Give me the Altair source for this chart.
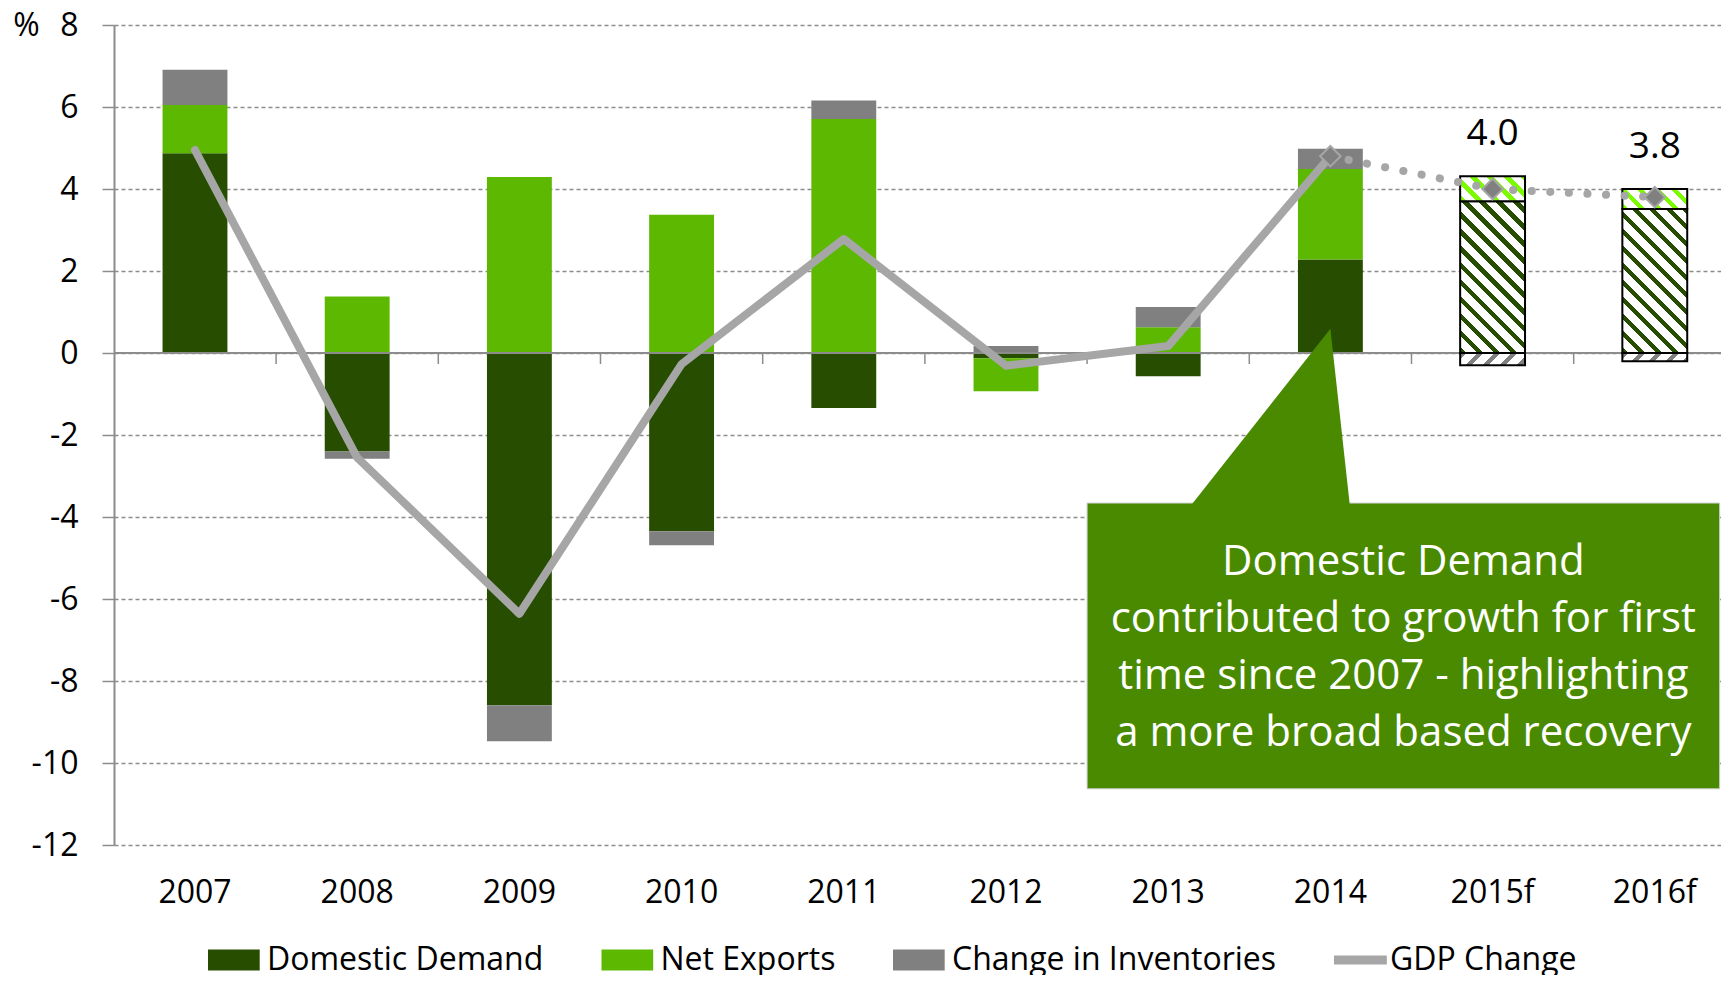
import math
import altair as alt
import pandas as pd

# ---------------- data ----------------
years = ["2007", "2008", "2009", "2010", "2011", "2012", "2013", "2014"]
domestic_demand = [4.87, -2.40, -8.59, -4.35, -1.34, -0.13, -0.57, 2.28]
net_exports = [1.18, 1.38, 4.29, 3.37, 5.71, -0.80, 0.63, 2.21]
inventories = [0.86, -0.18, -0.88, -0.34, 0.45, 0.17, 0.49, 0.49]
gdp_change = [4.95, -2.55, -6.36, -0.27, 2.78, -0.31, 0.17, 4.80]

forecast_years = ["2015f", "2016f"]
fc_domestic_demand = [3.70, 3.51]
fc_net_exports = [0.61, 0.49]
fc_inventories = [-0.30, -0.20]
fc_gdp_change = [4.0, 3.8]

series_names = ["Domestic Demand", "Net Exports", "Change in Inventories"]
gdp_name = "GDP Change"
y_tick_values = [-12, -10, -8, -6, -4, -2, 0, 2, 4, 6, 8]

callout_lines = [
    "Domestic Demand",
    "contributed to growth for first",
    "time since 2007 - highlighting",
    "a more broad based recovery",
]

# ---------------- styles / layout ----------------
series_colors = ["#264d00", "#5cb800", "#808080"]
hatch_colors = ["#264d00", "#7cfc00", "#808080"]
hatch_dirs = ["back", "back", "fwd"]
GDP_COLOR = "#a6a6a6"
AXIS_GRAY = "#8c8c8c"
CALLOUT_GREEN = "#4a8a00"
FONT = "Open Sans"

cats = years + forecast_years
N = len(cats)
W, H = 1607, 820
STEP = 162.2
PI = 0.6
PO = (W / STEP - (N - PI)) / 2
BAND_START = 48.55
ALIGN = BAND_START / (W - STEP * (N - PI))
BW = STEP * (1 - PI)
C0 = BAND_START + BW / 2
Y_MIN, Y_MAX = -12, 8
PX = H / (Y_MAX - Y_MIN)

xscale = alt.Scale(domain=cats, paddingInner=PI, paddingOuter=PO, align=ALIGN, round=False)
yscale = alt.Scale(domain=[Y_MIN, Y_MAX], nice=False, zero=False)
lin_x = alt.Scale(domain=[-C0 / STEP, (W - C0) / STEP], nice=False, zero=False)

RECT_SYMBOL = "M-1,-0.95H3.7V0.95H-1Z"
LINE_SYMBOL = "M-1,0H3.8"


def hatch(w, h, color, direction, period=12.0, frac=0.38):
    w, h = abs(w), abs(h)
    k = (w + h) / (w * w + h * h)
    if direction == "back":
        x1, y1, x2, y2 = 0, 1, k * w, 1 - k * h
    else:
        x1, y1, x2, y2 = 0, 0, k * w, k * h
    n = (w + h) / math.sqrt(2) / period
    stops = []
    i = 0
    while i < n:
        a = min(i / n, 1)
        b = min((i + frac) / n, 1)
        c = min((i + 1) / n, 1)
        stops += [
            {"offset": a, "color": color},
            {"offset": b, "color": color},
            {"offset": b, "color": "#ffffff"},
            {"offset": c, "color": "#ffffff"},
        ]
        i += 1
    return {"gradient": "linear", "x1": x1, "y1": y1, "x2": x2, "y2": y2, "stops": stops}


# ---------------- tables ----------------
rows = []
for i, yr in enumerate(years):
    for j, (name, vals) in enumerate(zip(series_names, [domestic_demand, net_exports, inventories])):
        rows.append({"cat": yr, "series": name, "value": vals[i], "ord": j})
hist = pd.DataFrame(rows)

gdp_df = pd.DataFrame({"cat": years, "gdp": gdp_change, "gdp_series": gdp_name})
fc_line = pd.DataFrame({"cat": [years[-1]] + forecast_years, "gdp": [gdp_change[-1]] + fc_gdp_change})
fc_label = pd.DataFrame({
    "cat": forecast_years,
    "top": [d + n for d, n in zip(fc_domestic_demand, fc_net_exports)],
    "label": [f"{v:.1f}" for v in fc_gdp_change],
})
tick_df = pd.DataFrame({"cat": cats[:-1]})

yaxis = alt.Axis(
    values=y_tick_values, labelExpr="'' + datum.value",
    title="%", titleAngle=0, titleX=-88, titleY=0, titleAlign="center", titleBaseline="middle",
    titleFont=FONT, titleFontSize=32, titleFontWeight="normal", titleColor="black",
    labelFont=FONT, labelFontSize=32, labelColor="black", labelPadding=24,
    tickSize=12, tickColor=AXIS_GRAY, tickWidth=1.5,
    domainColor=AXIS_GRAY, domainWidth=2,
    grid=True, gridColor=AXIS_GRAY, gridDash=[4, 3], gridWidth=1.3,
)
xaxis = alt.Axis(
    title=None, labelAngle=0, labelFont=FONT, labelFontSize=32, labelColor="black",
    labelPadding=47, labelBaseline="middle", domain=False, ticks=False, tickSize=0, grid=False,
)

bars = alt.Chart(hist).mark_bar().encode(
    x=alt.X("cat:N", scale=xscale, axis=xaxis, sort=cats),
    y=alt.Y("value:Q", scale=yscale, axis=yaxis, stack="zero"),
    fill=alt.Fill(
        "series:N",
        scale=alt.Scale(domain=series_names, range=series_colors),
        legend=alt.Legend(
            orient="none", legendX=89, legendY=919, direction="horizontal", title=None,
            labelFont=FONT, labelFontSize=32, labelColor="black", labelLimit=1000,
            symbolType=RECT_SYMBOL, symbolSize=484, symbolStrokeWidth=0, symbolOpacity=1,
            labelOffset=32, columnPadding=52.5,
        ),
    ),
    order=alt.Order("ord:Q", sort="ascending"),
)

zero_rule = alt.Chart(hist).mark_rule(color=AXIS_GRAY, strokeWidth=2).encode(y=alt.datum(0))

ticks = alt.Chart(tick_df).mark_rule(color=AXIS_GRAY, strokeWidth=1.5, xOffset=STEP / 2, y2Offset=11).encode(
    x=alt.X("cat:N", scale=xscale), y=alt.datum(0), y2=alt.datum(0)
)

# forecast hatched segments
fc_layers = []
for i, yr in enumerate(forecast_years):
    segs = [
        (0.0, fc_domestic_demand[i]),
        (fc_domestic_demand[i], fc_domestic_demand[i] + fc_net_exports[i]),
        (0.0, fc_inventories[i]),
    ]
    for j, (a, b) in enumerate(segs):
        seg_df = pd.DataFrame({"cat": [yr], "y0": [a], "y1": [b], "series": [series_names[j]]})
        grad = hatch(BW, (b - a) * PX, hatch_colors[j], hatch_dirs[j])
        fc_layers.append(
            alt.Chart(seg_df).mark_bar(fill=grad, stroke="black", strokeWidth=2).encode(
                x=alt.X("cat:N", scale=xscale), y=alt.Y("y0:Q", scale=yscale), y2="y1:Q"
            )
        )

gdp_line = alt.Chart(gdp_df).mark_line(strokeWidth=8, strokeCap="round", strokeJoin="round").encode(
    x=alt.X("cat:N", scale=xscale, sort=cats),
    y=alt.Y("gdp:Q", scale=yscale),
    stroke=alt.Stroke(
        "gdp_series:N",
        scale=alt.Scale(domain=[gdp_name], range=[GDP_COLOR]),
        legend=alt.Legend(
            orient="none", legendX=1215, legendY=919, direction="horizontal", title=None,
            labelFont=FONT, labelFontSize=32, labelColor="black", labelLimit=1000,
            symbolType=LINE_SYMBOL, symbolSize=484, symbolStrokeWidth=9,
            labelOffset=29,
        ),
    ),
)

fc_dots = alt.Chart(fc_line).mark_line(
    color=GDP_COLOR, strokeWidth=8, strokeCap="round", strokeDash=[0.1, 18.5]
).encode(x=alt.X("cat:N", scale=xscale, sort=cats), y=alt.Y("gdp:Q", scale=yscale))

fc_diamonds = alt.Chart(fc_line).mark_point(
    shape="diamond", filled=True, size=420, fill="#808080", stroke=GDP_COLOR, strokeWidth=2, opacity=1
).encode(x=alt.X("cat:N", scale=xscale), y=alt.Y("gdp:Q", scale=yscale))

fc_text = alt.Chart(fc_label).mark_text(
    font=FONT, fontSize=37, color="black", dy=-42, baseline="middle", align="center"
).encode(x=alt.X("cat:N", scale=xscale), y=alt.Y("top:Q", scale=yscale), text="label:N")

band_layer = alt.layer(bars, zero_rule, ticks, *fc_layers, gdp_line, fc_dots, fc_diamonds, fc_text)

# ---------------- callout (x in category-index units) ----------------
box_df = pd.DataFrame({"x": [5.50], "x2": [9.40], "y": [-3.66], "y2": [-10.63]})
ptr_df = pd.DataFrame({"x": [6.14, 7.0, 7.12], "y": [-3.72, 0.59, -3.72], "y2": [-3.72, -3.72, -3.72]})
txt_df = pd.DataFrame({"x": [7.45], "y": [-5.10], "t": ["\n".join(callout_lines)]})

box = alt.Chart(box_df).mark_rect(fill=CALLOUT_GREEN, stroke="#d0d0d0", strokeWidth=1).encode(
    x=alt.X("x:Q", scale=lin_x, axis=None), x2="x2:Q",
    y=alt.Y("y:Q", scale=yscale), y2="y2:Q",
)
pointer = alt.Chart(ptr_df).mark_area(color=CALLOUT_GREEN, opacity=1, interpolate="linear").encode(
    x=alt.X("x:Q", scale=lin_x, axis=None),
    y=alt.Y("y:Q", scale=yscale), y2="y2:Q",
)
callout_text = alt.Chart(txt_df).mark_text(
    font=FONT, fontSize=42, color="white", lineHeight=57, align="center", baseline="middle", lineBreak="\n"
).encode(x=alt.X("x:Q", scale=lin_x, axis=None), y=alt.Y("y:Q", scale=yscale), text="t:N")

callout_layer = alt.layer(box, pointer, callout_text)

chart = (
    alt.layer(band_layer, callout_layer)
    .resolve_scale(x="independent")
    .properties(
        width=W, height=H,
        padding={"left": 106, "top": 17, "right": 0, "bottom": 130},
        autosize=alt.AutoSizeParams(type="none"),
        background="white",
    )
    .configure_view(stroke=None)
)

chart.save("out.html", embed_options={"renderer": "svg", "actions": False})
